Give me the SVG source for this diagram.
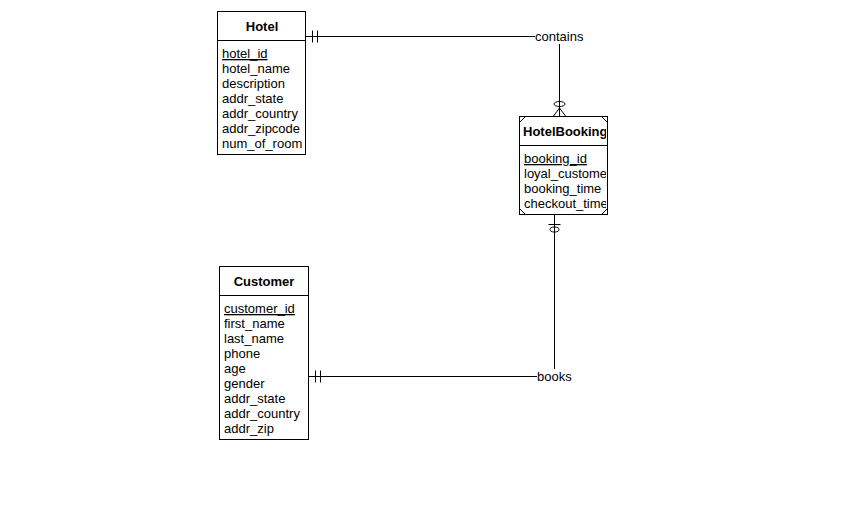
<svg xmlns="http://www.w3.org/2000/svg" width="859" height="517" viewBox="0 0 859 517">
<style>
.box{fill:#fff;stroke:#000;stroke-width:1}
.ln{fill:none;stroke:#000;stroke-width:1}
text{font-family:"Liberation Sans",Arial,sans-serif;font-size:13px;fill:#000}
.hd{font-weight:bold;text-anchor:middle}
.pk{text-decoration:underline}
</style>
<defs>
<clipPath id="cHotel"><rect x="218" y="41" width="84" height="114"/></clipPath>
<clipPath id="cHB"><rect x="520" y="117" width="86" height="98"/></clipPath>
<clipPath id="cCust"><rect x="220" y="296" width="88" height="144"/></clipPath>
</defs>
<rect width="859" height="517" fill="#fff"/>
<g id="connectors">
<path class="ln" d="M306,36.5 H535"/>
<path class="ln" d="M312.5,30.5 V42.5 M317.5,30.5 V42.5"/>
<path class="ln" d="M559.5,44 V116"/>
<ellipse class="ln" cx="559.5" cy="104" rx="5.5" ry="2.5"/>
<path class="ln" d="M559.5,108 L553.5,116 M559.5,108 L565.5,116"/>
<path class="ln" d="M308,376.5 H537"/>
<path class="ln" d="M315.5,370.5 V382.5 M320.5,370.5 V382.5"/>
<path class="ln" d="M554.5,215 V369"/>
<path class="ln" d="M548.5,224.5 H560.5"/>
<ellipse class="ln" cx="554.5" cy="229.5" rx="4.5" ry="2.5"/>
<text x="535" y="41">contains</text>
<text x="537" y="381">books</text>
</g>
<g id="Hotel">
<rect class="box" x="217.5" y="11.5" width="88" height="143"/>
<path class="ln" d="M217.5,40.5 H305.5"/>
<text class="hd" x="262" y="31">Hotel</text>
<g clip-path="url(#cHotel)">
<text class="pk" x="222" y="58">hotel_id</text>
<text x="222" y="73">hotel_name</text>
<text x="222" y="88">description</text>
<text x="222" y="103">addr_state</text>
<text x="222" y="118">addr_country</text>
<text x="222" y="133">addr_zipcode</text>
<text x="222" y="148">num_of_rooms</text>
</g>
</g>
<g id="HotelBooking">
<rect class="box" x="519.5" y="116.5" width="88" height="98"/>
<path class="ln" d="M519.5,145.5 H607.5"/>
<path class="ln" d="M519.5,122.5 L525.5,116.5 M601.5,116.5 L607.5,122.5 M519.5,208.5 L525.5,214.5 M601.5,214.5 L607.5,208.5"/>
<g clip-path="url(#cHB)">
<text x="523" y="136" font-weight="bold">HotelBooking</text>
<text class="pk" x="524" y="163">booking_id</text>
<text x="524" y="178">loyal_customer</text>
<text x="524" y="193">booking_time</text>
<text x="524" y="208">checkout_time</text>
</g>
</g>
<g id="Customer">
<rect class="box" x="219.5" y="266.5" width="89" height="173"/>
<path class="ln" d="M219.5,295.5 H308.5"/>
<text class="hd" x="264" y="286">Customer</text>
<g clip-path="url(#cCust)">
<text class="pk" x="224" y="313">customer_id</text>
<text x="224" y="328">first_name</text>
<text x="224" y="343">last_name</text>
<text x="224" y="358">phone</text>
<text x="224" y="373">age</text>
<text x="224" y="388">gender</text>
<text x="224" y="403">addr_state</text>
<text x="224" y="418">addr_country</text>
<text x="224" y="433">addr_zip</text>
</g>
</g>
</svg>
